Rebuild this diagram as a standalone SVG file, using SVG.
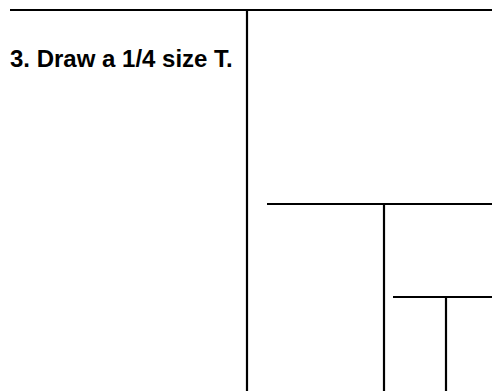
<svg xmlns="http://www.w3.org/2000/svg" width="492" height="391" viewBox="0 0 492 391">
<style>
.l{stroke:#000;stroke-width:2.2;fill:none}
.t{font-family:"Liberation Sans",Arial,sans-serif;font-weight:bold;font-size:24px;fill:#000}
</style>
<rect width="492" height="391" fill="#fff"/>
<g id="label"><text class="t" x="10" y="67">3. Draw a 1/4 size T.</text></g>
<g id="connectors">
<line class="l" x1="10" y1="10" x2="492" y2="10"/>
<line class="l" x1="247" y1="10" x2="247" y2="391"/>
<line class="l" x1="267" y1="204" x2="492" y2="204"/>
<line class="l" x1="384" y1="204" x2="384" y2="391"/>
<line class="l" x1="393" y1="297" x2="492" y2="297"/>
<line class="l" x1="446" y1="297" x2="446" y2="391"/>
</g>
</svg>
